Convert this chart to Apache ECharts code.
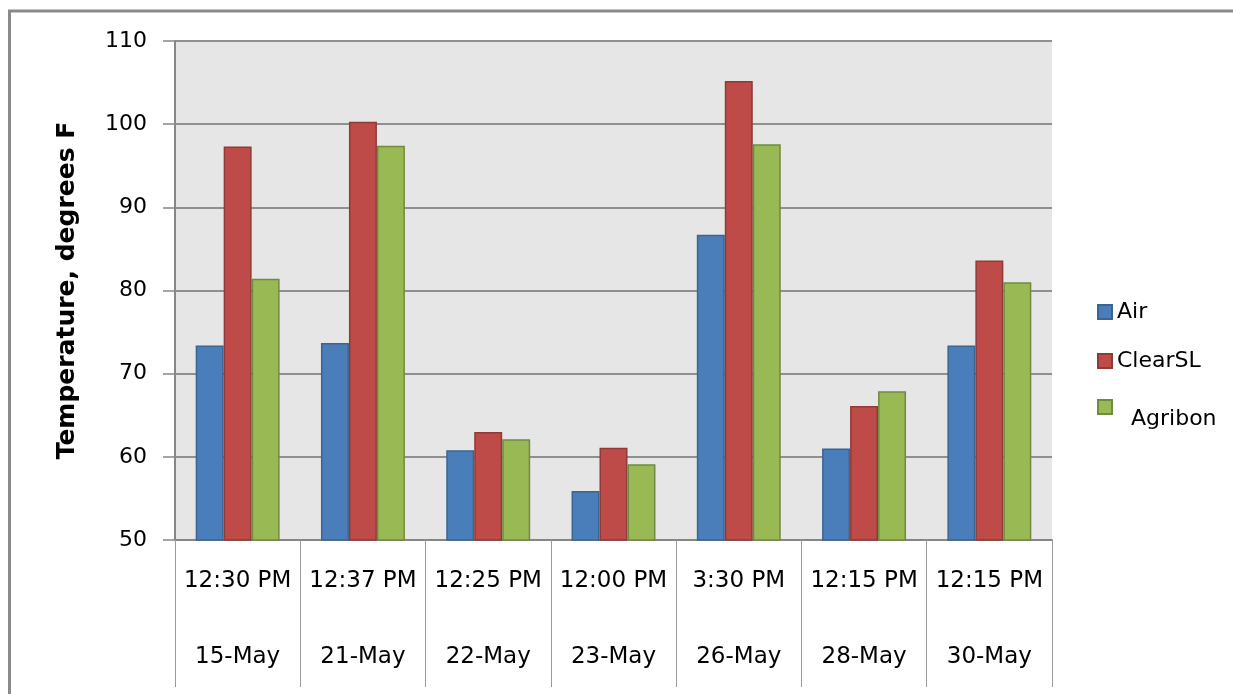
<!DOCTYPE html>
<html>
<head>
<meta charset="utf-8">
<script src="https://cdn.jsdelivr.net/npm/echarts@6/dist/echarts.min.js"></script>
<style>
html,body{margin:0;padding:0;background:#fff;}
#chart{width:1233px;height:694px;}
</style>
</head>
<body>
<div id="chart"></div>
<script>
const times = ['12:30 PM','12:37 PM','12:25 PM','12:00 PM','3:30 PM','12:15 PM','12:15 PM'];
const dates = ['15-May','21-May','22-May','23-May','26-May','28-May','30-May'];
const seriesNames = ['Air','ClearSL','Agribon'];
const airValues = [73.4, 73.7, 60.8, 55.9, 86.7, 61.0, 73.4];
const clearSLValues = [97.3, 100.3, 63.0, 61.1, 105.2, 66.1, 83.6];
const agribonValues = [81.4, 97.4, 62.1, 59.1, 97.6, 67.9, 81.0];
const yTicks = {min: 50, max: 110, interval: 10};

const categories = times.map((t, i) => t + '\n\n' + dates[i]);
const fills = ['#4A7EBB', '#BE4B48', '#98B954'];
const borders = ['#3A6591', '#8F3A37', '#728A3F'];
const allValues = [airValues, clearSLValues, agribonValues];

const chart = echarts.init(document.getElementById('chart'), null, {renderer: 'canvas'});
const legendText = {fontFamily: 'DejaVu Sans', fontSize: 22, color: '#000', lineHeight: 24};
chart.setOption({
  animation: false,
  backgroundColor: '#fff',
  graphic: [{
    type: 'rect', z: -1,
    shape: {x: 9.5, y: 11, width: 1400, height: 900},
    style: {fill: 'none', stroke: '#8a8a8a', lineWidth: 3}
  }],
  grid: {left: 175, right: 181, top: 41, bottom: 154, show: true, backgroundColor: '#E6E6E6', borderWidth: 0},
  legend: [
    {data: ['Air'], left: 1092, top: 295, orient: 'vertical', icon: 'rect', itemWidth: 14, itemHeight: 14, itemGap: 0, textStyle: legendText},
    {data: ['ClearSL'], left: 1092, top: 344, orient: 'vertical', icon: 'rect', itemWidth: 14, itemHeight: 14, itemGap: 0, textStyle: legendText},
    {data: ['Agribon'], left: 1092, top: 379, orient: 'vertical', icon: 'rect', itemWidth: 14, itemHeight: 14, itemGap: 0,
     formatter: n => '{a|' + n + '}',
     textStyle: Object.assign({}, legendText, {rich: {a: {fontFamily: 'DejaVu Sans', fontSize: 22, color: '#000', lineHeight: 24, padding: [24, 0, 0, 14]}}})}
  ],
  xAxis: {
    type: 'category',
    data: categories,
    axisLine: {lineStyle: {color: '#868686', width: 2}},
    axisTick: {show: true, length: 147, lineStyle: {color: '#9a9a9a', width: 1}},
    axisLabel: {fontFamily: 'DejaVu Sans', fontSize: 23, color: '#000', lineHeight: 38, margin: 22, interval: 0}
  },
  yAxis: {
    type: 'value',
    min: yTicks.min, max: yTicks.max, interval: yTicks.interval,
    name: 'Temperature, degrees F',
    nameLocation: 'middle',
    nameGap: 95,
    nameTextStyle: {fontFamily: 'DejaVu Sans', fontWeight: 'bold', fontSize: 25, color: '#000'},
    axisLine: {show: true, lineStyle: {color: '#868686', width: 2}},
    axisTick: {show: true, length: 12, lineStyle: {color: '#868686', width: 1.5}},
    axisLabel: {fontFamily: 'DejaVu Sans', fontSize: 22, color: '#000', margin: 28},
    splitLine: {lineStyle: {color: '#8f8f8f', width: 2}}
  },
  series: seriesNames.map((name, i) => ({
    name: name,
    type: 'bar',
    data: allValues[i],
    barGap: '0%',
    barCategoryGap: '33%',
    itemStyle: {color: fills[i], borderColor: borders[i], borderWidth: 1.5}
  }))
});
</script>
</body>
</html>
